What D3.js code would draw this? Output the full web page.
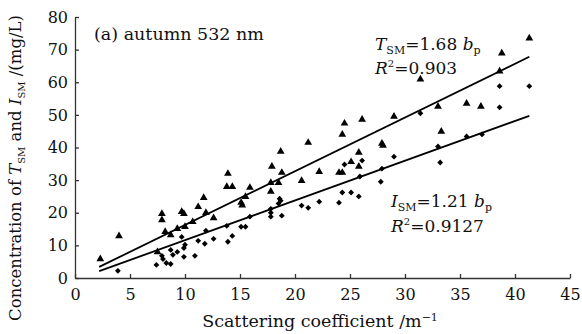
<!DOCTYPE html>
<html><head><meta charset="utf-8">
<script src="https://cdn.jsdelivr.net/npm/d3@7"></script>
<style>
body{margin:0;background:#fff;}
svg text{font-family:"DejaVu Serif",serif;fill:#111;}
</style></head>
<body><svg id="c" width="582" height="334"></svg>
<script>
// T_SM (triangles): scattering coefficient, concentration
const tsmX = [2.3,4.0,7.5,7.9,7.9,8.2,8.7,9.3,9.7,9.9,10.0,10.7,11.2,11.7,11.9,12.6,13.8,13.9,14.3,15.1,15.2,15.5,15.9,17.8,17.8,17.9,18.5,18.7,18.8,20.6,21.2,22.2,24.0,24.3,24.3,24.5,25.1,25.8,25.8,26.1,27.9,28.0,29.0,31.4,33.0,33.3,35.6,36.9,38.6,38.8,41.3];
const tsmY = [5.8,12.9,8.0,19.7,17.8,14.2,13.2,15.1,20.3,19.7,15.7,17.2,21.8,24.6,20.0,18.4,28.0,32.0,28.0,23.1,22.3,24.9,27.7,29.2,26.5,34.2,29.2,38.8,32.3,29.8,41.5,32.6,32.3,32.3,44.0,47.4,35.6,38.5,34.2,48.6,41.2,40.6,49.5,60.9,52.6,44.9,53.5,52.6,63.4,68.9,73.5];
// I_SM (diamonds)
const ismX = [3.9,7.4,7.9,8.0,8.3,8.7,8.7,8.9,9.3,9.7,9.9,9.9,10.0,10.9,11.2,11.8,11.9,12.6,13.8,13.9,14.3,15.1,15.5,15.9,17.8,17.8,17.8,18.5,18.6,18.7,18.8,20.6,21.2,22.2,24.0,24.3,24.5,25.1,25.8,25.9,26.1,27.8,27.9,29.0,31.4,33.0,33.2,35.6,37.0,38.6,38.6,41.3];
const ismY = [2.2,4.0,6.8,5.8,4.6,4.3,8.6,7.1,8.0,12.6,6.5,9.2,10.2,6.8,11.4,10.5,14.5,12.0,16.0,11.1,12.9,15.7,15.7,18.8,21.2,20.0,18.8,22.8,24.3,23.7,19.1,22.2,21.5,23.4,23.1,26.2,34.8,26.2,25.0,31.1,36.0,29.5,33.5,37.2,50.5,40.3,35.4,43.4,44.0,52.3,58.8,58.8];
// fit lines (end points)
const fitX = [2.2, 41.3];
const tsmFitY = [3.4, 67.8];
const ismFitY = [2.1, 49.7];
const xTicks = [0,5,10,15,20,25,30,35,40,45];
const yTicks = [0,10,20,30,40,50,60,70,80];

const svg = d3.select("#c");
const x = d3.scaleLinear().domain([0,45]).range([75,570]);
const y = d3.scaleLinear().domain([0,80]).range([278,17]);

const gx = svg.append("g").attr("transform","translate(0,278)")
  .call(d3.axisBottom(x).tickValues(xTicks).tickSize(-4).tickSizeOuter(0).tickPadding(11));
const gy = svg.append("g").attr("transform","translate(75,0)")
  .call(d3.axisLeft(y).tickValues(yTicks).tickSize(-4).tickSizeOuter(0).tickPadding(7));
[gx,gy].forEach(g=>{
  g.selectAll("path,line").attr("stroke","#333").attr("stroke-width",1.3);
  g.selectAll("text").style("font-family","DejaVu Serif").style("font-size","16px").attr("fill","#111");
});

const line = d3.line().x(d=>x(d[0])).y(d=>y(d[1]));
svg.append("path").attr("d",line(fitX.map((v,i)=>[v,tsmFitY[i]]))).attr("stroke","#000").attr("stroke-width",1.8).attr("fill","none");
svg.append("path").attr("d",line(fitX.map((v,i)=>[v,ismFitY[i]]))).attr("stroke","#000").attr("stroke-width",1.8).attr("fill","none");

const tri = d3.symbol().type(d3.symbolTriangle).size(26);
svg.append("g").selectAll("path").data(tsmX.map((v,i)=>[v,tsmY[i]])).join("path")
  .attr("d",tri).attr("transform",d=>`translate(${x(d[0])},${y(d[1])})`).attr("fill","#000");
const dia = d3.symbol().type(d3.symbolSquare).size(17);
svg.append("g").selectAll("path").data(ismX.map((v,i)=>[v,ismY[i]])).join("path")
  .attr("d",dia).attr("transform",d=>`translate(${x(d[0])},${y(d[1])}) rotate(45)`).attr("fill","#000");

// texts
svg.append("text").attr("x",94).attr("y",40).style("font-size","17.5px").text("(a) autumn 532 nm");

function eq(xp, yp, sym, rest){
  const t = svg.append("text").attr("x",xp).attr("y",yp).style("font-size","17px");
  t.append("tspan").style("font-style","italic").text(sym);
  t.append("tspan").attr("dy",4).style("font-size","11px").text("SM");
  t.append("tspan").attr("dy",-4).text("=" + rest + " ");
  t.append("tspan").style("font-style","italic").text("b");
  t.append("tspan").attr("dy",4).style("font-size","11px").text("p");
}
function r2(xp, yp, val){
  const t = svg.append("text").attr("x",xp).attr("y",yp).style("font-size","17px");
  t.append("tspan").style("font-style","italic").text("R");
  t.append("tspan").attr("dy",-7).style("font-size","10px").text("2");
  t.append("tspan").attr("dy",7).text("=" + val);
}
eq(375, 50, "T", "1.68");
r2(375, 74, "0.903");
eq(391, 207, "I", "1.21");
r2(391, 232, "0.9127");

svg.append("text").attr("x",320).attr("y",327).attr("text-anchor","middle").style("font-size","17.5px")
  .html('Scattering coefficient /m<tspan dy="-6" font-size="11px">−1</tspan>');

const yl = svg.append("text").attr("transform","translate(21,168) rotate(-90)").attr("text-anchor","middle").style("font-size","16.5px");
yl.append("tspan").text("Concentration of ");
yl.append("tspan").style("font-style","italic").text("T");
yl.append("tspan").attr("dy",4).style("font-size","10px").text("SM");
yl.append("tspan").attr("dy",-4).text(" and ");
yl.append("tspan").style("font-style","italic").text("I");
yl.append("tspan").attr("dy",4).style("font-size","10px").text("SM");
yl.append("tspan").attr("dy",-4).text(" /(mg/L)");
</script></body></html>
